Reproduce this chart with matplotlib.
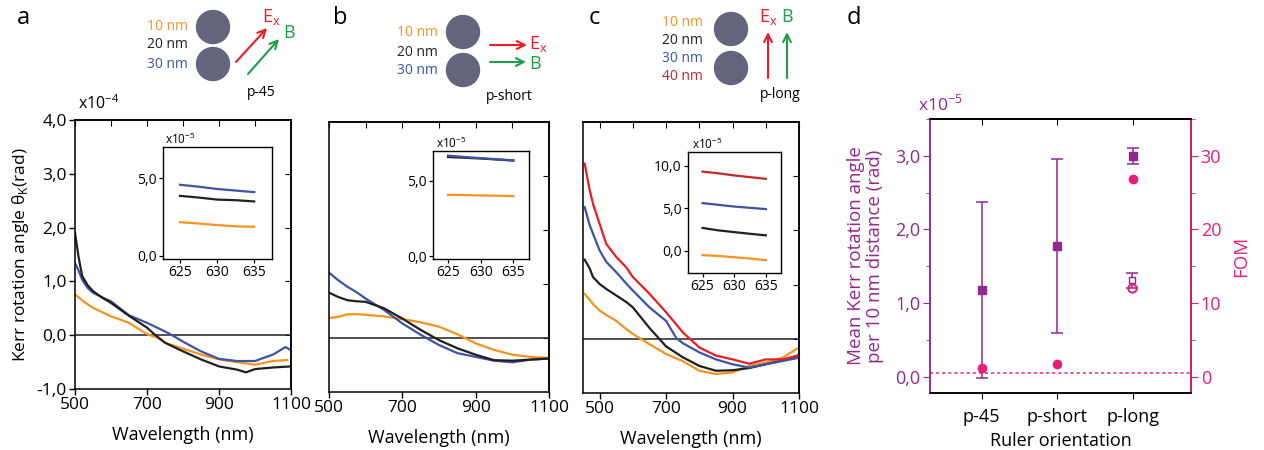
import numpy as np
import matplotlib
matplotlib.use("Agg")
import matplotlib.pyplot as plt
from matplotlib.patches import Circle
from matplotlib.ticker import FuncFormatter, MultipleLocator

plt.rcParams['font.family'] = ['Open Sans', 'DejaVu Sans']
plt.rcParams['mathtext.fontset'] = 'custom'
plt.rcParams['mathtext.rm'] = 'Open Sans'
plt.rcParams['axes.linewidth'] = 1.1

W, H = 1264, 450

ORANGE = '#F7931E'
BLACK = '#231F20'
BLUE = '#3B55A5'
RED = '#ED1C24'
DARKRED = '#C1272D'
GREEN = '#1E9E48'
GREY = '#64647C'
PURPLE = '#93278F'
PINK = '#EC1C7A'

# ---- panel a (p-45) ----
a_black_x = [500, 510, 520, 535, 550, 575, 600, 650, 700, 720, 750, 800, 850, 900, 950, 975, 1000, 1050, 1100]
a_black_y = [1.90, 1.45, 1.10, 0.93, 0.82, 0.70, 0.60, 0.36, 0.14, 0.02, -0.14, -0.30, -0.45, -0.58, -0.64, -0.69, -0.63, -0.60, -0.58]
a_blue_x = [500, 510, 520, 535, 550, 580, 600, 625, 650, 700, 750, 770, 800, 850, 900, 950, 1000, 1050, 1085, 1100]
a_blue_y = [1.34, 1.20, 1.03, 0.88, 0.79, 0.69, 0.63, 0.50, 0.37, 0.23, 0.07, 0.0, -0.12, -0.30, -0.44, -0.48, -0.48, -0.36, -0.22, -0.28]
a_orange_x = [500, 525, 550, 600, 650, 700, 730, 750, 800, 850, 900, 950, 1000, 1050, 1090]
a_orange_y = [0.76, 0.62, 0.51, 0.35, 0.23, 0.02, -0.05, -0.14, -0.25, -0.36, -0.45, -0.50, -0.55, -0.48, -0.46]

# ---- panel b (p-short) ----
b_x = [500, 525, 550, 575, 600, 650, 700, 750, 800, 850, 900, 950, 1000, 1050, 1100]
b_blue = [1.21, 1.07, 0.95, 0.85, 0.73, 0.52, 0.27, 0.06, -0.13, -0.28, -0.35, -0.42, -0.45, -0.40, -0.38]
b_black = [0.84, 0.76, 0.70, 0.68, 0.67, 0.55, 0.36, 0.15, -0.04, -0.19, -0.31, -0.41, -0.42, -0.40, -0.38]
b_orange = [0.37, 0.39, 0.44, 0.44, 0.43, 0.40, 0.35, 0.29, 0.21, 0.07, -0.10, -0.22, -0.31, -0.35, -0.37]

# ---- panel c (p-long) ----
c_x = [455, 470, 480, 500, 520, 550, 580, 600, 650, 700, 730, 750, 800, 850, 900, 950, 1000, 1050, 1100]
c_red = [3.23, 2.75, 2.49, 2.12, 1.75, 1.51, 1.32, 1.14, 0.83, 0.49, 0.27, 0.12, -0.16, -0.31, -0.38, -0.46, -0.38, -0.38, -0.31]
c_blue = [2.43, 2.10, 1.94, 1.63, 1.42, 1.23, 1.02, 0.89, 0.58, 0.33, 0.02, -0.08, -0.25, -0.38, -0.47, -0.53, -0.47, -0.41, -0.35]
c_black = [1.46, 1.30, 1.14, 1.01, 0.92, 0.80, 0.68, 0.58, 0.20, -0.14, -0.26, -0.34, -0.50, -0.59, -0.58, -0.54, -0.47, -0.40, -0.30]
c_orange = [0.83, 0.72, 0.64, 0.52, 0.44, 0.33, 0.18, 0.09, -0.10, -0.28, -0.36, -0.41, -0.59, -0.65, -0.62, -0.50, -0.44, -0.35, -0.16]

# ---- insets (x1e-5) ----
ins_x = [625, 627.5, 630, 632.5, 635]
ia_blue = [4.57, 4.45, 4.30, 4.20, 4.10]
ia_black = [3.86, 3.75, 3.62, 3.58, 3.50]
ia_orange = [2.17, 2.08, 1.98, 1.90, 1.87]
ib_blue = [6.69, 6.60, 6.52, 6.45, 6.38]
ib_black = [6.60, 6.55, 6.50, 6.43, 6.36]
ib_orange = [4.08, 4.06, 4.04, 4.02, 3.99]
ic_red = [9.30, 9.10, 8.85, 8.65, 8.45]
ic_blue = [5.60, 5.40, 5.20, 5.05, 4.90]
ic_black = [2.69, 2.40, 2.20, 2.00, 1.82]
ic_orange = [-0.51, -0.60, -0.75, -0.90, -1.10]

# ---- panel d ----
ruler = ['p-45', 'p-short', 'p-long']
kerr_mean = [1.18, 1.78, 3.00]
kerr_err = [1.19, 1.18, 0.11]
fom = [1.2, 1.7, 26.9]
kerr_open = 1.31
kerr_open_err = 0.10
fom_open = 12.0
fom_ref = 0.5

comma = FuncFormatter(lambda v, p: ('%.1f' % v).replace('.', ','))


def px_rect(x0, y0, x1, y1):
    return [x0 / W, 1 - y1 / H, (x1 - x0) / W, (y1 - y0) / H]


def style_main(ax, xlim, show_y):
    ax.set_xlim(*xlim)
    ax.set_ylim(-1, 4)
    ax.set_xticks([500, 700, 900, 1100])
    ax.yaxis.set_major_locator(MultipleLocator(1))
    ax.yaxis.set_major_formatter(comma)
    ax.tick_params(direction='out', length=4, width=1, labelsize=12.5, pad=2)
    if not show_y:
        ax.tick_params(axis='y', labelleft=False, length=0)
    top = ax.secondary_xaxis('top')
    top.set_xticks(np.arange(500, 1101, 100))
    top.tick_params(direction='in', length=4, labeltop=False)
    right = ax.secondary_yaxis('right')
    right.set_yticks([0, 1, 2, 3])
    right.tick_params(direction='in', length=4, labelright=False)
    ax.axhline(0, color=BLACK, lw=1.1, zorder=1)
    ax.set_xlabel('Wavelength (nm)', fontsize=13, labelpad=9)


def style_inset(ax, yticks):
    ax.set_xlim(622.7, 637.4)
    ax.set_xticks([625, 630, 635])
    ax.set_yticks(yticks)
    ax.yaxis.set_major_formatter(comma)
    ax.tick_params(direction='out', length=3, width=0.9, labelsize=10, pad=1.5)
    for s in ax.spines.values():
        s.set_linewidth(1.0)


fig = plt.figure(figsize=(W / 100, H / 100), dpi=100)

# panel a
ax_a = fig.add_axes(px_rect(75, 120, 291, 389))
ax_a.plot(a_orange_x, a_orange_y, color=ORANGE, lw=1.6)
ax_a.plot(a_blue_x, a_blue_y, color=BLUE, lw=1.6)
ax_a.plot(a_black_x, a_black_y, color=BLACK, lw=1.6)
style_main(ax_a, (500, 1100), True)
ax_a.set_ylabel(r'Kerr rotation angle θ$_\mathregular{K}$(rad)', fontsize=12.5, labelpad=4)

ins_a = fig.add_axes(px_rect(163, 147, 272, 259))
ins_a.plot(ins_x, ia_blue, color=BLUE, lw=1.6)
ins_a.plot(ins_x, ia_black, color=BLACK, lw=1.6)
ins_a.plot(ins_x, ia_orange, color=ORANGE, lw=1.6)
ins_a.set_ylim(-0.2, 7.0)
style_inset(ins_a, [0, 5])

# panel b
ax_b = fig.add_axes(px_rect(329, 122, 549, 392))
ax_b.plot(b_x, b_orange, color=ORANGE, lw=1.6)
ax_b.plot(b_x, b_blue, color=BLUE, lw=1.6)
ax_b.plot(b_x, b_black, color=BLACK, lw=1.6)
style_main(ax_b, (500, 1100), False)

ins_b = fig.add_axes(px_rect(433, 151, 529, 259))
ins_b.plot(ins_x, ib_black, color=BLACK, lw=1.6)
ins_b.plot(ins_x, ib_blue, color=BLUE, lw=1.6)
ins_b.plot(ins_x, ib_orange, color=ORANGE, lw=1.6)
ins_b.set_ylim(-0.2, 7.0)
style_inset(ins_b, [0, 5])

# panel c
ax_c = fig.add_axes(px_rect(583, 122, 799, 393))
ax_c.plot(c_x, c_orange, color=ORANGE, lw=1.6)
ax_c.plot(c_x, c_black, color=BLACK, lw=1.6)
ax_c.plot(c_x, c_blue, color=BLUE, lw=1.6)
ax_c.plot(c_x, c_red, color=RED, lw=1.6)
style_main(ax_c, (450, 1100), False)

ins_c = fig.add_axes(px_rect(688, 152, 781, 273))
ins_c.plot(ins_x, ic_red, color=DARKRED, lw=1.6)
ins_c.plot(ins_x, ic_blue, color=BLUE, lw=1.6)
ins_c.plot(ins_x, ic_black, color=BLACK, lw=1.6)
ins_c.plot(ins_x, ic_orange, color=ORANGE, lw=1.6)
ins_c.set_ylim(-2.6, 11.6)
style_inset(ins_c, [0, 5, 10])

# panel d
ax_d = fig.add_axes(px_rect(930, 119, 1191, 393))
xs = np.arange(1, len(ruler) + 1)
ax_d.errorbar(xs, kerr_mean, yerr=kerr_err, fmt='s', color=PURPLE, ms=6,
              capsize=4, elinewidth=1.1, capthick=1.1, zorder=3)
ax_d.errorbar([xs[-1] - 0.02], [kerr_open], yerr=[kerr_open_err], fmt='s', mfc='white',
              mec=PURPLE, color=PURPLE, ms=5, capsize=4, elinewidth=1.1, capthick=1.1, zorder=3)
ax_d.set_xlim(0.32, 3.76)
ax_d.set_ylim(-0.22, 3.5)
ax_d.set_xticks(xs)
ax_d.set_xticklabels(ruler)
ax_d.yaxis.set_major_locator(MultipleLocator(1))
ax_d.yaxis.set_minor_locator(MultipleLocator(0.5))
ax_d.yaxis.set_major_formatter(comma)
ax_d.tick_params(axis='x', direction='out', length=4, labelsize=13, pad=7)
ax_d.tick_params(axis='y', which='both', direction='out', colors=PURPLE, labelsize=13, pad=2)
ax_d.tick_params(axis='y', which='major', length=5)
ax_d.tick_params(axis='y', which='minor', length=3)
ax_d.spines['left'].set_color(PURPLE)
ax_d.set_xlabel('Ruler orientation', fontsize=13, labelpad=4)
ax_d.set_ylabel('Mean Kerr rotation angle\nper 10 nm distance (rad)', color=PURPLE,
                fontsize=13.5, labelpad=8, linespacing=1.1)
top_d = ax_d.secondary_xaxis('top')
top_d.set_xticks(xs)
top_d.tick_params(direction='in', length=4, labeltop=False)

ax_f = ax_d.twinx()
ax_f.plot(xs, fom, 'o', color=PINK, ms=6, zorder=4)
ax_f.plot([xs[-1] - 0.02], [fom_open], 'o', mfc='none', mec=PINK, mew=1.4, ms=6, zorder=4)
ax_f.axhline(fom_ref, color=PINK, lw=1.1, ls=(0, (2, 2)))
ax_f.set_ylim(-2.2, 35)
ax_f.yaxis.set_major_locator(MultipleLocator(10))
ax_f.yaxis.set_minor_locator(MultipleLocator(5))
ax_f.tick_params(axis='y', which='both', direction='out', colors=PINK, labelsize=13, pad=2)
ax_f.tick_params(axis='y', which='major', length=5)
ax_f.tick_params(axis='y', which='minor', length=3)
ax_f.spines['right'].set_color(PINK)
ax_f.spines['left'].set_color(PURPLE)
ax_f.set_ylabel('FOM', color=PINK, fontsize=13.5, labelpad=8)

# ---- overlay: labels and schematics ----
ov = fig.add_axes([0, 0, 1, 1])
ov.set_xlim(0, W)
ov.set_ylim(H, 0)
ov.axis('off')

for lab, x in zip(['a', 'b', 'c', 'd'], [17, 333, 589, 847]):
    ov.text(x, 18, lab, fontsize=17, ha='left', va='center')

ov.text(78, 104, r'x10$^{-4}$', fontsize=11.5, va='center')
ov.text(165, 139, r'x10$^{-5}$', fontsize=8.5, va='center')
ov.text(436, 143, r'x10$^{-5}$', fontsize=8.5, va='center')
ov.text(692, 144, r'x10$^{-5}$', fontsize=8.5, va='center')
ov.text(918, 104, r'x10$^{-5}$', fontsize=12.5, va='center', color=PURPLE)


def sizes(x, ys, labels, colors):
    for y, t, c in zip(ys, labels, colors):
        ov.text(x, y, t, color=c, fontsize=10, ha='right', va='center')


def dimer(x, y1, y2):
    for y in (y1, y2):
        ov.add_patch(Circle((x, y), 16.5, color=GREY))


def arrow(x0, y0, x1, y1, c):
    ov.annotate('', xy=(x1, y1), xytext=(x0, y0),
                arrowprops=dict(arrowstyle='->', color=c, lw=1.5, mutation_scale=14,
                                shrinkA=0, shrinkB=0))


# a: p-45
sizes(188, [27, 45, 64], ['10 nm', '20 nm', '30 nm'], [ORANGE, BLACK, BLUE])
dimer(213, 27, 64)
arrow(236, 62, 267, 28, RED)
arrow(248, 74, 279, 39, GREEN)
ov.text(262, 17, r'E$_\mathregular{x}$', color=RED, fontsize=13, va='center')
ov.text(283, 33, 'B', color=GREEN, fontsize=13, va='center')
ov.text(247, 93, 'p-45', fontsize=10, va='center')

# b: p-short
sizes(438, [33, 52, 70], ['10 nm', '20 nm', '30 nm'], [ORANGE, BLACK, BLUE])
dimer(463, 32, 70)
arrow(490, 45, 527, 45, RED)
arrow(490, 62, 526, 62, GREEN)
ov.text(529, 44, r'E$_\mathregular{x}$', color=RED, fontsize=13, va='center')
ov.text(529, 64, 'B', color=GREEN, fontsize=13, va='center')
ov.text(486, 97, 'p-short', fontsize=10, va='center')

# c: p-long
sizes(703, [22, 40, 58, 77], ['10 nm', '20 nm', '30 nm', '40 nm'], [ORANGE, BLACK, BLUE, DARKRED])
dimer(731, 29, 68)
arrow(768, 78, 768, 32, RED)
arrow(787, 78, 787, 32, GREEN)
ov.text(768, 17, r'E$_\mathregular{x}$', color=RED, fontsize=13, ha='center', va='center')
ov.text(787, 17, 'B', color=GREEN, fontsize=13, ha='center', va='center')
ov.text(760, 95, 'p-long', fontsize=10, va='center')

fig.savefig('out.png', dpi=100)
